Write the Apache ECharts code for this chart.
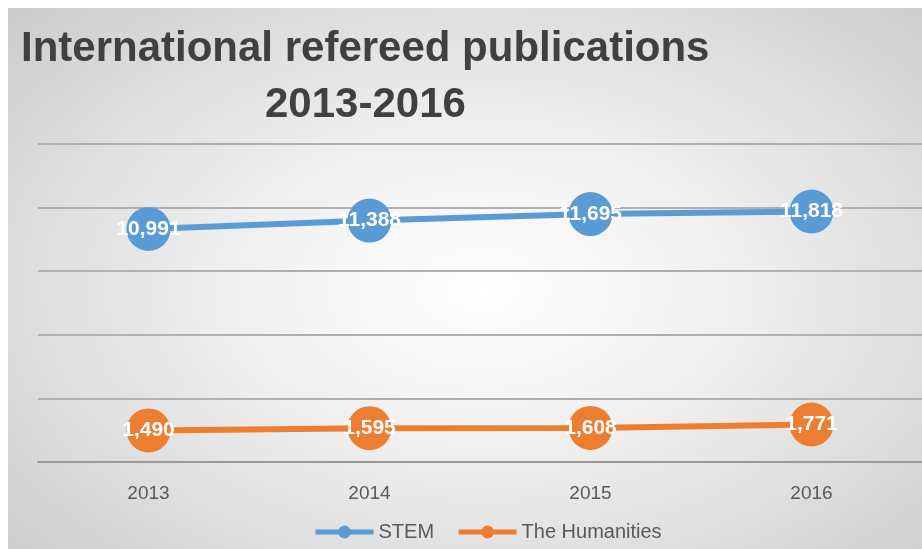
<!DOCTYPE html>
<html>
<head>
<meta charset="utf-8">
<script src="https://cdn.jsdelivr.net/npm/echarts@6/dist/echarts.min.js"></script>
<style>
  html, body {
    margin: 0;
    padding: 0;
    background: #fff;
  }
  .chart-frame {
    position: absolute;
    left: 8px;
    top: 8px;
    width: 914px;
    height: 541px;
    background: radial-gradient(ellipse 70% 75% at 52% 52%, #ffffff 0%, #efefef 40%, #cdcdcd 100%);
  }
  #chartBox {
    width: 914px;
    height: 541px;
  }
</style>
</head>
<body>
<div class="chart-frame">
  <div id="chartBox"></div>
</div>
<script>
  // data
  const years = ['2013', '2014', '2015', '2016']
  const stem = [10991, 11388, 11695, 11818]
  const humanities = [1490, 1595, 1608, 1771]

  const labelStyle = {
    show: true,
    position: 'inside',
    color: '#fff',
    fontSize: 21,
    fontWeight: 'bold',
    fontFamily: 'Liberation Sans',
    formatter: (p) => p.value.toLocaleString('en-US')
  }

  function lineSeries(name, data, color) {
    return {
      name: name,
      type: 'line',
      data: data,
      symbol: 'circle',
      symbolSize: 44,
      itemStyle: { color: color },
      lineStyle: { color: color, width: 6 },
      label: labelStyle,
      z: 3
    }
  }

  const charts = echarts.init(document.getElementById('chartBox'))
  charts.setOption({
    animation: false,
    title: [
      {
        text: 'International refereed publications',
        left: 8,
        top: 15,
        textStyle: { fontSize: 42, fontWeight: 'bold', color: '#404040', fontFamily: 'Liberation Sans' }
      },
      {
        text: '2013-2016',
        left: 252,
        top: 71,
        textStyle: { fontSize: 42, fontWeight: 'bold', color: '#404040', fontFamily: 'Liberation Sans' }
      }
    ],
    grid: {
      left: 30,
      right: -7,
      top: 136,
      bottom: 87
    },
    legend: {
      bottom: 2,
      left: 300,
      itemWidth: 58,
      itemHeight: 16,
      itemGap: 22,
      lineStyle: { width: 5 },
      textStyle: { fontSize: 20, color: '#595959', fontFamily: 'Liberation Sans' },
      data: ['STEM', 'The Humanities']
    },
    xAxis: {
      type: 'category',
      data: years,
      axisLine: { lineStyle: { color: '#999', width: 2 } },
      axisTick: { show: false },
      axisLabel: { fontSize: 19, color: '#595959', margin: 22, fontFamily: 'Liberation Sans' }
    },
    yAxis: {
      type: 'value',
      min: 0,
      max: 15000,
      interval: 3000,
      axisLabel: { show: false },
      axisLine: { show: false },
      axisTick: { show: false },
      splitLine: { lineStyle: { color: '#b0b0b0', width: 2 } }
    },
    series: [
      lineSeries('STEM', stem, '#5b9bd5'),
      lineSeries('The Humanities', humanities, '#ed7d31')
    ]
  })
</script>
</body>
</html>
